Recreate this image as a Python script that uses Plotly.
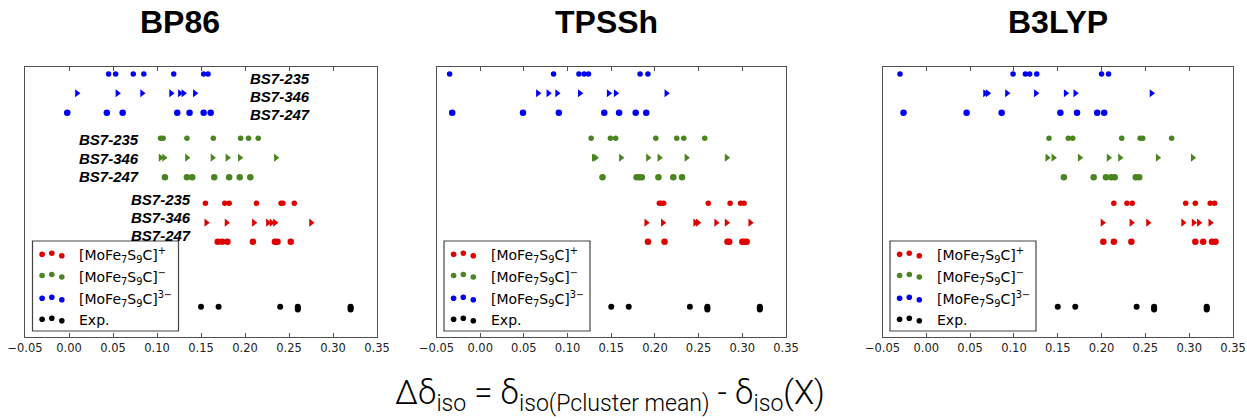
import plotly.graph_objects as go

W, H = 1247, 419

functionals = ["BP86", "TPSSh", "B3LYP"]
bs_labels = ["BS7-235", "BS7-346", "BS7-247"]
x_ticks = [-0.05, 0.00, 0.05, 0.10, 0.15, 0.20, 0.25, 0.30, 0.35]

# ---- BP86 ----
bp86_3m_235 = [0.045, 0.053, 0.073, 0.085, 0.119, 0.153, 0.158]
bp86_3m_346 = [0.009, 0.055, 0.083, 0.116, 0.126, 0.130, 0.143]
bp86_3m_247 = [-0.002, 0.043, 0.061, 0.123, 0.137, 0.153, 0.161]
bp86_m_235 = [0.104, 0.107, 0.134, 0.164, 0.195, 0.204, 0.215]
bp86_m_346 = [0.104, 0.108, 0.134, 0.163, 0.180, 0.194, 0.235]
bp86_m_247 = [0.109, 0.134, 0.140, 0.165, 0.182, 0.194, 0.206]
bp86_p_235 = [0.155, 0.177, 0.182, 0.213, 0.241, 0.243, 0.256]
bp86_p_346 = [0.156, 0.179, 0.210, 0.226, 0.230, 0.234, 0.275]
bp86_p_247 = [0.169, 0.174, 0.180, 0.209, 0.234, 0.237, 0.252]

# ---- TPSSh ----
tpssh_3m_235 = [-0.035, 0.084, 0.113, 0.119, 0.124, 0.183, 0.192]
tpssh_3m_346 = [0.066, 0.078, 0.088, 0.114, 0.147, 0.155, 0.213]
tpssh_3m_247 = [-0.032, 0.049, 0.090, 0.142, 0.159, 0.178, 0.190]
tpssh_m_235 = [0.127, 0.149, 0.155, 0.201, 0.225, 0.233, 0.257]
tpssh_m_346 = [0.130, 0.132, 0.161, 0.192, 0.205, 0.236, 0.282]
tpssh_m_247 = [0.140, 0.179, 0.182, 0.185, 0.204, 0.221, 0.231]
tpssh_p_235 = [0.205, 0.207, 0.210, 0.261, 0.286, 0.298, 0.302]
tpssh_p_346 = [0.190, 0.209, 0.246, 0.249, 0.270, 0.282, 0.309]
tpssh_p_247 = [0.192, 0.211, 0.283, 0.285, 0.300, 0.302, 0.305]

# ---- B3LYP ----
b3lyp_3m_235 = [-0.030, 0.099, 0.113, 0.118, 0.126, 0.200, 0.208]
b3lyp_3m_346 = [0.067, 0.070, 0.092, 0.125, 0.159, 0.170, 0.257]
b3lyp_3m_247 = [-0.026, 0.046, 0.086, 0.153, 0.172, 0.195, 0.203]
b3lyp_m_235 = [0.140, 0.162, 0.167, 0.223, 0.244, 0.247, 0.280]
b3lyp_m_346 = [0.138, 0.145, 0.175, 0.208, 0.221, 0.264, 0.304]
b3lyp_m_247 = [0.157, 0.191, 0.205, 0.211, 0.215, 0.239, 0.243]
b3lyp_p_235 = [0.214, 0.229, 0.235, 0.296, 0.307, 0.324, 0.329]
b3lyp_p_346 = [0.201, 0.234, 0.253, 0.293, 0.305, 0.311, 0.324]
b3lyp_p_247 = [0.202, 0.214, 0.234, 0.307, 0.316, 0.326, 0.330]

# ---- Experiment ----
exp_values = [0.15, 0.17, 0.24, 0.26, 0.26, 0.26, 0.32, 0.32, 0.32]
exp_rows = [1.57, 1.57, 1.57, 1.57, 1.50, 1.43, 1.57, 1.50, 1.43]

# row positions (y) for each broken-symmetry solution
rows_3m = [13.64, 12.64, 11.63]
rows_m = [10.30, 9.30, 8.28]
rows_p = [6.93, 5.93, 4.94]

data = {
    "BP86": {"3m": [bp86_3m_235, bp86_3m_346, bp86_3m_247],
             "m": [bp86_m_235, bp86_m_346, bp86_m_247],
             "p": [bp86_p_235, bp86_p_346, bp86_p_247]},
    "TPSSh": {"3m": [tpssh_3m_235, tpssh_3m_346, tpssh_3m_247],
              "m": [tpssh_m_235, tpssh_m_346, tpssh_m_247],
              "p": [tpssh_p_235, tpssh_p_346, tpssh_p_247]},
    "B3LYP": {"3m": [b3lyp_3m_235, b3lyp_3m_346, b3lyp_3m_247],
              "m": [b3lyp_m_235, b3lyp_m_346, b3lyp_m_247],
              "p": [b3lyp_p_235, b3lyp_p_346, b3lyp_p_247]},
}

colors = {"p": "#e00000", "m": "#4a8522", "3m": "#0000f5", "exp": "#000000"}
rows = {"p": rows_p, "m": rows_m, "3m": rows_3m}
legend_names = [
    ("p", "[MoFe<sub>7</sub>S<sub>9</sub>C]<sup>+</sup>"),
    ("m", "[MoFe<sub>7</sub>S<sub>9</sub>C]<sup>−</sup>"),
    ("3m", "[MoFe<sub>7</sub>S<sub>9</sub>C]<sup>3−</sup>"),
    ("exp", "Exp."),
]

# layout geometry (window pixels)
panels_px = [(25, 377), (436.5, 786), (882.5, 1233)]
plot_top, plot_bot = 67, 337
title_cx = [180, 606, 1058]


def px_x(x):
    return x / W


def px_y(y):
    return 1 - y / H


fig = go.Figure()
symbols = ["circle", "triangle-right", "circle"]
sizes = [5.5, 7, 6.5]

for i, fn in enumerate(functionals):
    ax = "" if i == 0 else str(i + 1)
    for key in ["3m", "m", "p"]:
        for j in range(3):
            vals = data[fn][key][j]
            fig.add_trace(go.Scatter(
                x=vals, y=[rows[key][j]] * len(vals), mode="markers",
                marker=dict(color=colors[key], size=sizes[j], symbol=symbols[j]),
                xaxis="x" + ax, yaxis="y" + ax, showlegend=False, hoverinfo="x"))
    fig.add_trace(go.Scatter(
        x=exp_values, y=exp_rows, mode="markers",
        marker=dict(color="black", size=6),
        xaxis="x" + ax, yaxis="y" + ax, showlegend=False, hoverinfo="x"))

layout = dict(width=W, height=H, margin=dict(l=0, r=0, t=0, b=0, autoexpand=False),
              paper_bgcolor="white", plot_bgcolor="white", showlegend=False)
frame = "#505050"
for i in range(3):
    ax = "" if i == 0 else str(i + 1)
    x0, x1 = panels_px[i]
    layout["xaxis" + ax] = dict(
        domain=[px_x(x0), px_x(x1)], range=[-0.05, 0.35], anchor="y" + ax,
        automargin=False, ticklabeloverflow="allow",
        tickvals=x_ticks, ticktext=[("−%.2f" % -v) if v < 0 else "%.2f" % v for v in x_ticks],
        ticks="inside", ticklen=4, tickcolor=frame, mirror="ticks",
        showline=True, linecolor=frame, linewidth=1, showgrid=False, zeroline=False,
        tickfont=dict(family="DejaVu Sans", size=11.5, color="#222"))
    layout["yaxis" + ax] = dict(
        domain=[px_y(plot_bot), px_y(plot_top)], range=[0, 14], anchor="x" + ax,
        automargin=False,
        showticklabels=False, ticks="", showline=True, mirror=True,
        linecolor=frame, linewidth=1, showgrid=False, zeroline=False)
fig.update_layout(**layout)

annotations = []
shapes = []

# titles
for i, fn in enumerate(functionals):
    annotations.append(dict(
        text="<b>%s</b>" % fn, x=px_x(title_cx[i]), y=px_y(22), xref="paper", yref="paper",
        showarrow=False, xanchor="center", yanchor="middle",
        font=dict(family="Liberation Sans", size=32, color="black")))

# BS labels in the first panel
lab_x = {"3m": 0.203, "m": 0.009, "p": 0.068}
lab_y = {"3m": [13.41, 12.46, 11.52], "m": [10.22, 9.27, 8.31], "p": [7.14, 6.20, 5.25]}
for key in ["3m", "m", "p"]:
    for j, lab in enumerate(bs_labels):
        annotations.append(dict(
            text="<b><i>%s</i></b>" % lab, x=lab_x[key], y=lab_y[key][j],
            xref="x", yref="y", showarrow=False, xanchor="left", yanchor="middle",
            font=dict(family="Liberation Sans", size=15, color="black")))

# legends (one per panel)
leg_rows = [254.3, 275.5, 298.3, 319.3]
dot_dx = [9.6, 19.3, 29.3]
dot_dy = [0, -1, 1.5]
for i in range(3):
    lx0 = panels_px[i][0] + 7.5
    shapes.append(dict(type="rect", xref="paper", yref="paper",
                       x0=px_x(lx0), x1=px_x(lx0 + 146), y0=px_y(331), y1=px_y(241),
                       line=dict(color="#444", width=1.2), fillcolor="white", layer="above"))
    for r, (key, name) in enumerate(legend_names):
        cy = leg_rows[r]
        for d in range(3):
            cx = lx0 + dot_dx[d]
            rr = 2.8
            yy = cy + dot_dy[d]
            shapes.append(dict(type="circle", xref="paper", yref="paper",
                               x0=px_x(cx - rr), x1=px_x(cx + rr),
                               y0=px_y(yy + rr), y1=px_y(yy - rr),
                               fillcolor=colors[key], line=dict(width=0), layer="above"))
        annotations.append(dict(
            text=name, x=px_x(lx0 + 44.5), y=px_y(cy + 1), xref="paper", yref="paper",
            showarrow=False, xanchor="left", yanchor="middle",
            font=dict(family="DejaVu Sans", size=14, color="black")))

# bottom formula
annotations.append(dict(
    text="Δδ<sub>iso</sub> = δ<sub>iso(Pcluster mean)</sub> - δ<sub>iso</sub>(X)",
    x=px_x(610), y=px_y(395), xref="paper", yref="paper", showarrow=False,
    xanchor="center", yanchor="middle",
    font=dict(family="Roboto", size=33, color="black", weight=300)))

fig.update_layout(annotations=annotations, shapes=shapes)
# remove the browser's default 8 px body margin so the figure fills the window exactly
fig.write_html("out.html", config={"displayModeBar": False},
               post_script="document.body.style.margin='0px';")
